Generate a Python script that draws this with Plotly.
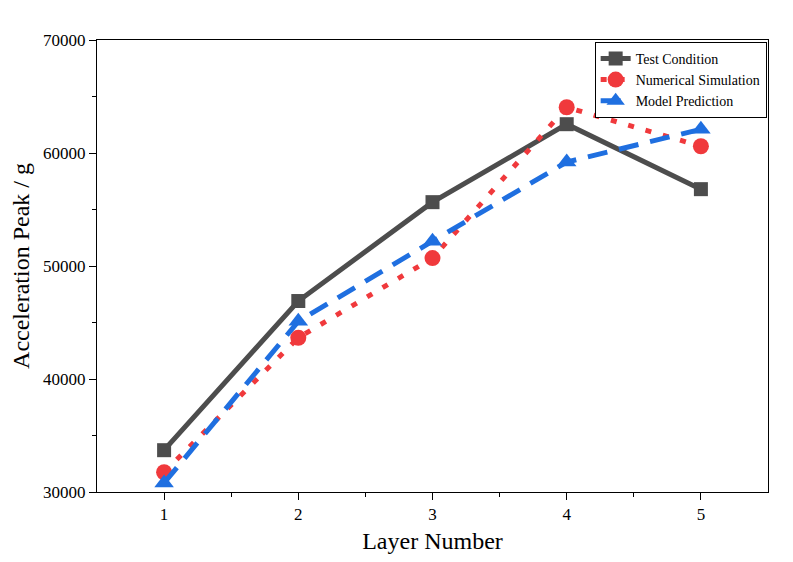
import plotly.graph_objs as go

layers = [1, 2, 3, 4, 5]
test_condition = [33700, 46900, 55650, 62550, 56800]
numerical_sim = [31750, 43650, 50700, 64050, 60600]
model_pred = [30800, 45100, 52200, 59200, 62100]

serif = "Liberation Serif, Times New Roman, serif"

fig = go.Figure()

fig.add_trace(go.Scatter(x=layers, y=test_condition, mode='lines+markers', name='Test Condition',
                         line=dict(color='#4d4d4d', width=5),
                         marker=dict(symbol='square', size=14, color='#4d4d4d')))
fig.add_trace(go.Scatter(x=layers, y=numerical_sim, mode='lines+markers', name='Numerical Simulation',
                         line=dict(color='#f0393c', width=5, dash='6px,12px'),
                         marker=dict(symbol='circle', size=16, color='#f0393c')))
fig.add_trace(go.Scatter(x=layers, y=model_pred, mode='lines+markers', name='Model Prediction',
                         line=dict(color='#1f6fe0', width=5, dash='20px,12px'),
                         marker=dict(symbol='triangle-up', size=17, color='#1f6fe0')))

axis_common = dict(showline=True, linecolor='black', linewidth=1, mirror=True,
                   ticks='outside', ticklen=7, tickcolor='black', showgrid=False, zeroline=False,
                   tickfont=dict(family=serif, size=17, color='black'))

# page body has an 8px margin, so the figure is shrunk a little to fit the window
fig.update_layout(
    width=785, height=554,
    paper_bgcolor='white', plot_bgcolor='white',
    margin=dict(l=89, r=25, t=32, b=70),
    font=dict(family=serif, color='black'),
    xaxis=dict(range=[0.5, 5.5], tickvals=layers,
               minor=dict(tickvals=[1.5, 2.5, 3.5, 4.5], ticks='outside', ticklen=4, tickcolor='black'),
               title=dict(text='Layer Number', font=dict(family=serif, size=24), standoff=8),
               **axis_common),
    yaxis=dict(range=[30000, 70000], dtick=10000, tickformat='d',
               minor=dict(dtick=5000, ticks='outside', ticklen=4, tickcolor='black'),
               title=dict(text='Acceleration Peak / g', font=dict(family=serif, size=24), standoff=6),
               **axis_common),
    legend=dict(x=0.998, y=0.996, xanchor='right', yanchor='top',
                bordercolor='black', borderwidth=1, bgcolor='white',
                font=dict(family=serif, size=14), tracegroupgap=0, itemwidth=30),
    showlegend=True,
)

fig.write_html("out.html")
